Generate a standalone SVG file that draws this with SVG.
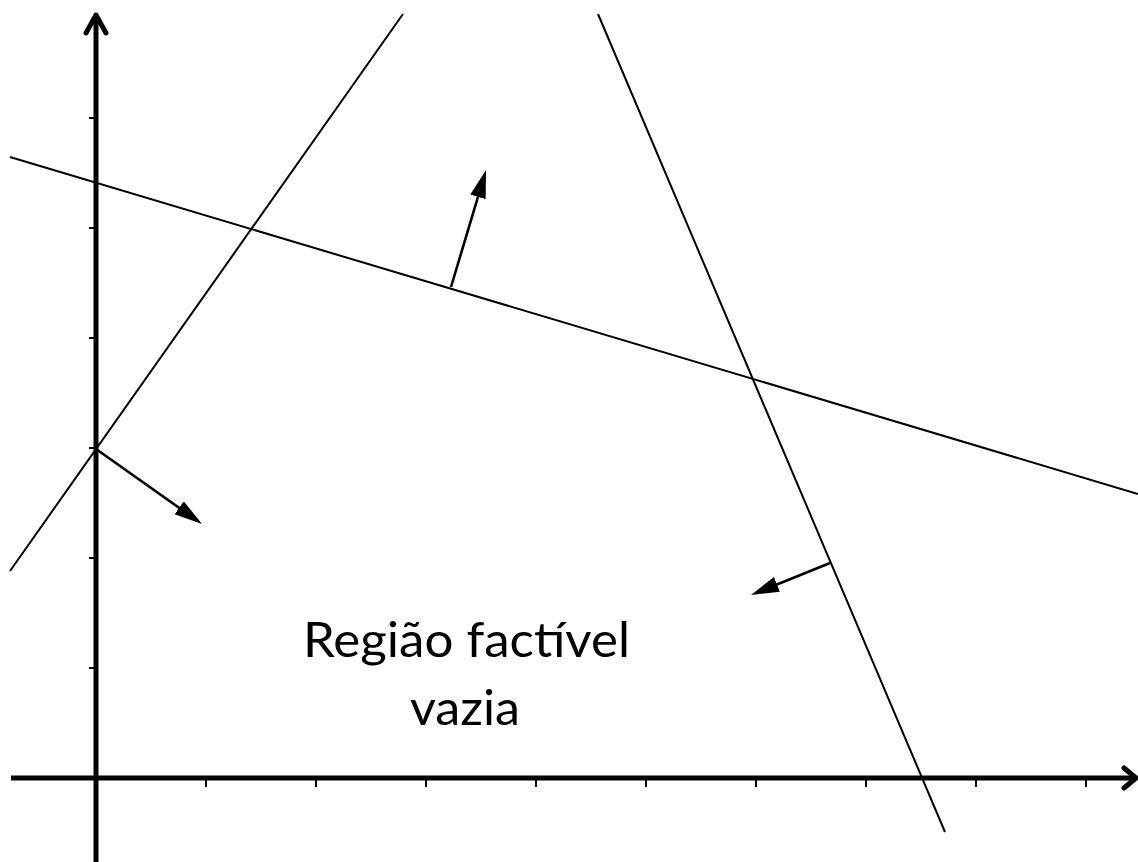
<svg xmlns="http://www.w3.org/2000/svg" width="1138" height="862" viewBox="0 0 1138 862">
<style>
.axis{stroke:#000;stroke-width:5;fill:none;stroke-linecap:butt}
.head{stroke:#000;stroke-width:5;fill:none;stroke-linecap:round;stroke-linejoin:round}
.tick{stroke:#000;stroke-width:2}
.line{stroke:#000;stroke-width:2;fill:none}
.arr{stroke:#000;stroke-width:2.6;fill:none}
.lbl{font-family:Lato,"Liberation Sans",sans-serif;font-size:48px;fill:#000;text-anchor:middle}
</style>
<defs>
<marker id="ah" markerUnits="userSpaceOnUse" markerWidth="30" markerHeight="18" refX="6" refY="8" orient="auto">
<path d="M0,0 L28,8 L0,16 Z" fill="#000"/>
</marker>
</defs>
<rect width="1138" height="862" fill="#fff"/>
<g id="axes">
<line class="axis" x1="96" y1="862" x2="96" y2="17"/>
<polyline class="head" points="86,33 96,15 106,33"/>
<line class="axis" x1="11" y1="778" x2="1134" y2="778"/>
<polyline class="head" points="1124,768 1136,778 1124,788"/>
<g id="xticks">
<line class="tick" x1="206" y1="778" x2="206" y2="787"/>
<line class="tick" x1="316" y1="778" x2="316" y2="787"/>
<line class="tick" x1="426" y1="778" x2="426" y2="787"/>
<line class="tick" x1="536" y1="778" x2="536" y2="787"/>
<line class="tick" x1="646" y1="778" x2="646" y2="787"/>
<line class="tick" x1="756" y1="778" x2="756" y2="787"/>
<line class="tick" x1="866" y1="778" x2="866" y2="787"/>
<line class="tick" x1="976" y1="778" x2="976" y2="787"/>
<line class="tick" x1="1086" y1="778" x2="1086" y2="787"/>
</g>
<g id="yticks">
<line class="tick" x1="89" y1="118" x2="96" y2="118"/>
<line class="tick" x1="89" y1="228" x2="96" y2="228"/>
<line class="tick" x1="89" y1="338" x2="96" y2="338"/>
<line class="tick" x1="89" y1="448" x2="96" y2="448"/>
<line class="tick" x1="89" y1="558" x2="96" y2="558"/>
<line class="tick" x1="89" y1="668" x2="96" y2="668"/>
</g>
</g>
<g id="connectors">
<line id="r1" class="line" x1="10" y1="571" x2="403" y2="14"/>
<line id="r2" class="line" x1="10" y1="157" x2="1138" y2="494"/>
<line id="r3" class="line" x1="598" y1="14" x2="945" y2="832"/>
<line id="a1" class="arr" x1="96" y1="449" x2="184.05" y2="511.3" marker-end="url(#ah)"/>
<line id="a2" class="arr" x1="451" y1="287" x2="479.7" y2="191.1" marker-end="url(#ah)"/>
<line id="a3" class="arr" x1="830" y1="563" x2="771.4" y2="586.7" marker-end="url(#ah)"/>
</g>
<g id="label">
<text class="lbl" x="466.5" y="657" textLength="327" lengthAdjust="spacingAndGlyphs">Região factível</text>
<text class="lbl" x="465" y="725" textLength="110" lengthAdjust="spacingAndGlyphs">vazia</text>
</g>
</svg>
